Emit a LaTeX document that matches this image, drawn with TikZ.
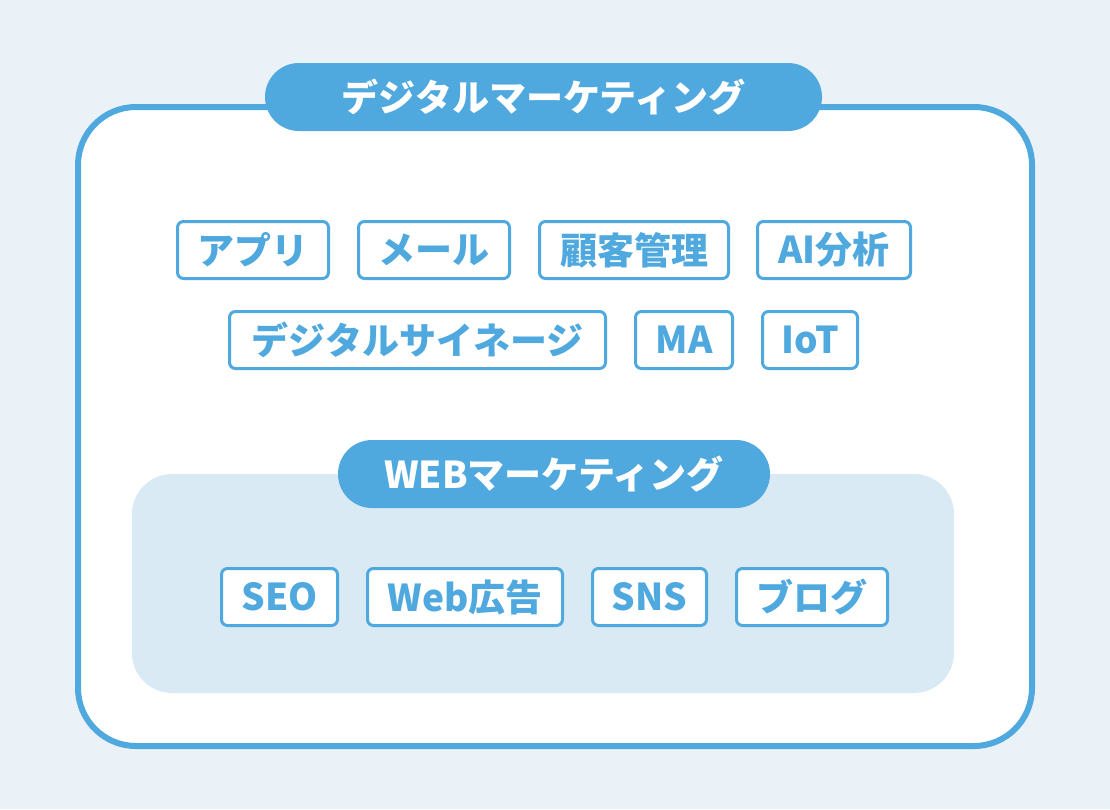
\documentclass[tikz,border=0pt]{standalone}
\usepackage{fontspec}
\setmainfont{Noto Sans CJK JP}
\usepackage{tikz}
\usetikzlibrary{positioning}

\definecolor{mainblue}{HTML}{50A9DE}
\definecolor{pagebg}{HTML}{EAF2F7}
\definecolor{webbg}{HTML}{DAEAF5}

\begin{document}
\begin{tikzpicture}[x=1pt, y=-1pt,
    tag/.style={draw=mainblue, line width=3pt, rounded corners=6pt, fill=white,
        minimum height=57pt, inner sep=0pt, text=mainblue,
        font=\bfseries\fontsize{37}{37}\selectfont},
    pill/.style={fill=mainblue, rounded corners=34pt, minimum height=68pt,
        inner sep=0pt, text=white, font=\bfseries\fontsize{37}{37}\selectfont}
]

% Background
\useasboundingbox (0,0) rectangle (1110,809);
\fill[pagebg] (0,0) rectangle (1110,809);

% Digital marketing frame
\draw[mainblue, line width=6pt, fill=white, rounded corners=58pt] (78,107) rectangle (1032,746);
\node[pill, minimum width=557pt] (digital) at (543.5,97) {デジタルマーケティング};

% Tags
\foreach \name/\lbl/\x/\y/\w in {
    app/アプリ/253/250/151,
    mail/メール/434/250/151,
    crm/顧客管理/634/250/189,
    ai/AI分析/834/250/153,
    signage/デジタルサイネージ/417.5/340/376,
    ma/MA/684/340/97,
    iot/IoT/810/340/95} {
    \node[tag, minimum width=\w pt] (\name) at (\x,\y) {\lbl};
}

% WEB marketing area
\fill[webbg, rounded corners=40pt] (132,474) rectangle (954,693);
\node[pill, minimum width=432pt] (web) at (554,474) {WEBマーケティング};

\foreach \name/\lbl/\x/\w in {
    seo/SEO/279.5/116,
    ads/Web広告/465/195,
    sns/SNS/649.5/114,
    blog/ブログ/812/151} {
    \node[tag, minimum width=\w pt] (\name) at (\x,597) {\lbl};
}

\end{tikzpicture}
\end{document}
